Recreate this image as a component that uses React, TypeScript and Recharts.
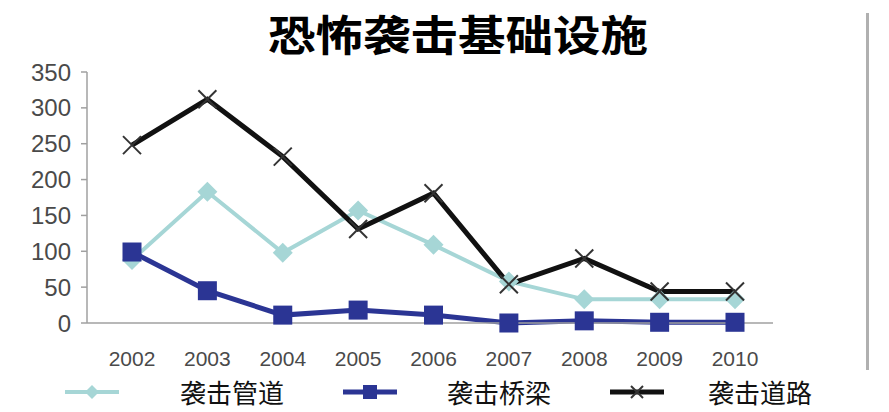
import React from 'react';
import { LineChart, Line, XAxis, YAxis, Legend } from 'recharts';

const years = ['2002', '2003', '2004', '2005', '2006', '2007', '2008', '2009', '2010'];
const pipeline = [88, 183, 98, 157, 109, 58, 33, 33, 33];
const bridge = [99, 45, 11, 18, 11, 0, 3, 1, 1];
const road = [248, 312, 232, 131, 181, 54, 90, 44, 44];
const yTicks = [0, 50, 100, 150, 200, 250, 300, 350];

const seriesNames = ['袭击管道', '袭击桥梁', '袭击道路'];
const seriesColors = ['#a6d6d6', '#2b3594', '#111111'];

const data = years.map((year, i) => ({
  year,
  pipeline: pipeline[i],
  bridge: bridge[i],
  road: road[i],
}));

const Diamond = (props: any) => {
  const { cx, cy } = props;
  if (cx == null || cy == null) return null;
  const r = 10;
  return (
    <polygon
      points={`${cx},${cy - r} ${cx + r},${cy} ${cx},${cy + r} ${cx - r},${cy}`}
      fill='#a6d6d6'
    />
  );
};

const Square = (props: any) => {
  const { cx, cy } = props;
  if (cx == null || cy == null) return null;
  return <rect x={cx - 9.5} y={cy - 9.5} width={19} height={19} fill='#2b3594' />;
};

const Cross = (props: any) => {
  const { cx, cy } = props;
  if (cx == null || cy == null) return null;
  const r = 9;
  return (
    <g stroke='#333' strokeWidth={2}>
      <line x1={cx - r} y1={cy - r} x2={cx + r} y2={cy + r} />
      <line x1={cx - r} y1={cy + r} x2={cx + r} y2={cy - r} />
    </g>
  );
};

const legendLineLeft = [65, 343, 610];
const legendTextLeft = [180, 447, 708];

const LegendContent = () => (
  <div style={{ position: 'relative', width: 889, height: 40 }}>
    {seriesNames.map((name, i) => (
      <React.Fragment key={name}>
        <svg
          style={{ position: 'absolute', left: legendLineLeft[i], top: 8 }}
          width={54}
          height={24}
        >
          <line x1={0} y1={12} x2={54} y2={12} stroke={seriesColors[i]} strokeWidth={i === 0 ? 4 : 5} />
          {i === 0 && <polygon points='27,5 34,12 27,19 20,12' fill={seriesColors[0]} />}
          {i === 1 && <rect x={20} y={5} width={14} height={14} fill={seriesColors[1]} />}
          {i === 2 && (
            <g stroke='#333' strokeWidth={2}>
              <line x1={21} y1={6} x2={33} y2={18} />
              <line x1={21} y1={18} x2={33} y2={6} />
            </g>
          )}
        </svg>
        <span
          style={{
            position: 'absolute',
            left: legendTextLeft[i],
            top: 0,
            fontSize: 26,
            lineHeight: '40px',
            fontFamily: '"Noto Sans CJK SC", serif',
            color: '#111',
            whiteSpace: 'nowrap',
          }}
        >
          {name}
        </span>
      </React.Fragment>
    ))}
  </div>
);

const tickStyle = { fill: '#4a4a4a', fontFamily: '"Liberation Sans", Arial, sans-serif' };

const App = () => {
  return (
    <div style={{ position: 'absolute', left: 0, top: 0, width: 889, height: 412, background: '#fff' }}>
      <div
        style={{
          position: 'absolute',
          left: 866,
          top: 13,
          width: 3,
          height: 357,
          background: '#b0b0b0',
        }}
      />
      <LineChart
        width={889}
        height={412}
        data={data}
        margin={{ top: 72, right: 116, bottom: 19, left: 7 }}
      >
        <text
          x={458}
          y={51}
          textAnchor='middle'
          fontSize={42}
          fontWeight={700}
          fontFamily='"Noto Sans CJK SC", serif'
          fill='#000'
          textLength={380}
          lengthAdjust='spacingAndGlyphs'
        >
          恐怖袭击基础设施
        </text>
        <XAxis
          dataKey='year'
          height={30}
          padding={{ left: 45, right: 38 }}
          axisLine={{ stroke: '#a0a0a0', strokeWidth: 1.5 }}
          tickLine={false}
          tick={{ ...tickStyle, fontSize: 21 }}
          tickMargin={22}
          interval={0}
        />
        <YAxis
          width={80}
          domain={[0, 350]}
          ticks={yTicks}
          axisLine={{ stroke: '#a0a0a0', strokeWidth: 1.5 }}
          tickLine={{ stroke: '#a0a0a0', strokeWidth: 1.5 }}
          tickSize={6}
          tickMargin={10}
          tick={{ ...tickStyle, fontSize: 24 }}
          interval={0}
        />
        <Legend
          verticalAlign='bottom'
          height={40}
          content={LegendContent}
          wrapperStyle={{ left: 0, top: 372, width: 889, bottom: 'auto' }}
        />
        <Line
          dataKey='pipeline'
          name={seriesNames[0]}
          stroke={seriesColors[0]}
          strokeWidth={4}
          dot={<Diamond />}
          activeDot={false}
          isAnimationActive={false}
        />
        <Line
          dataKey='bridge'
          name={seriesNames[1]}
          stroke={seriesColors[1]}
          strokeWidth={5}
          dot={<Square />}
          activeDot={false}
          isAnimationActive={false}
        />
        <Line
          dataKey='road'
          name={seriesNames[2]}
          stroke={seriesColors[2]}
          strokeWidth={5}
          dot={<Cross />}
          activeDot={false}
          isAnimationActive={false}
        />
      </LineChart>
    </div>
  );
};

export default App;
